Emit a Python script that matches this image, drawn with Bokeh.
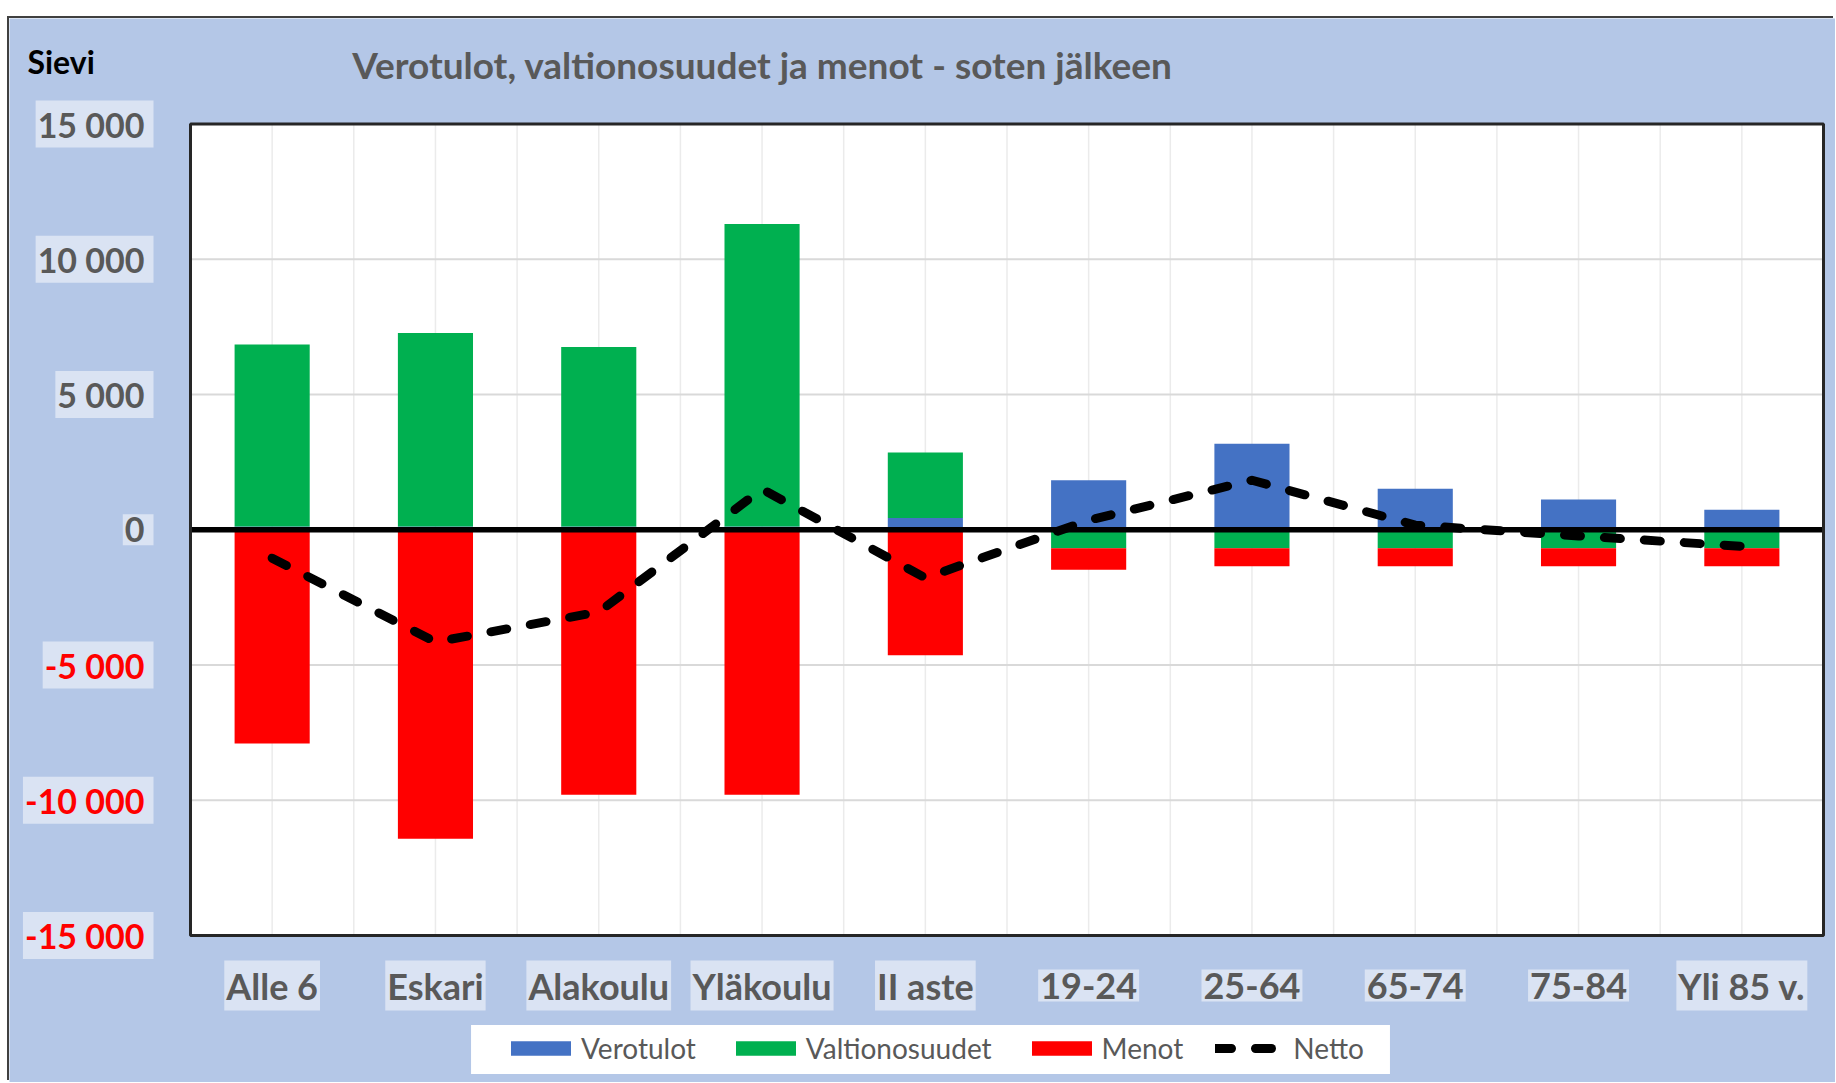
import numpy as np
from bokeh.plotting import figure
from bokeh.layouts import column, row
from bokeh.models import (Range1d, Label, Legend, LegendItem, ColumnDataSource, Spacer)
from bokeh.embed import file_html
from bokeh.resources import INLINE

# ---------------- data ----------------
categories = ["Alle 6", "Eskari", "Alakoulu", "Yläkoulu", "II aste",
              "19-24", "25-64", "65-74", "75-84", "Yli 85 v."]
verotulot = [120, 120, 120, 120, 430, 1830, 3180, 1520, 1120, 740]
valtionosuudet = [6730, 7150, 6640, 11180, 2430, -680, -680, -680, -680, -680]
menot = [-7900, -11420, -9800, -9800, -4640, -800, -670, -670, -670, -670]
netto = [-1050, -4150, -3040, 1500, -1780, 350, 1830, 170, -230, -610]

y_ticks = [15000, 10000, 5000, 0, -5000, -10000, -15000]
y_tick_labels = ["15 000", "10 000", "5 000", "0", "-5 000", "-10 000", "-15 000"]
y_min, y_max = -15000, 15000

series_names = ["Verotulot", "Valtionosuudet", "Menot"]
series_values = [verotulot, valtionosuudet, menot]
series_colors = ["#4472C4", "#00B050", "#FF0000"]

title_text = "Verotulot, valtionosuudet ja menot - soten jälkeen"
corner_text = "Sievi"

# ---------------- layout (page pixels) ----------------
FONT = "Lato"
GRAY = "#595959"
BG = "#B4C7E7"
LBL_BG = "#DAE3F3"

N = len(categories)
FIG_L, FIG_R, FIG_T, FIG_B = 9, 1835, 18, 1082
PA_L, PA_R, PA_T, PA_B = 190, 1823, 123.5, 935   # plot area in page px


def dx(px):
    return (px - PA_L) / (PA_R - PA_L) * N


def dy(py):
    return y_max - (py - PA_T) / (PA_B - PA_T) * (y_max - y_min)


p = figure(width=FIG_R - FIG_L, height=FIG_B - FIG_T,
           x_range=Range1d(dx(FIG_L), dx(FIG_R)), y_range=Range1d(dy(FIG_B), dy(FIG_T)),
           output_backend="svg", toolbar_location=None,
           min_border_left=0, min_border_right=0, min_border_top=0, min_border_bottom=0)
p.styles = {"box-shadow": "-2px -2px 0 0 #404040"}
p.title.visible = False
p.xaxis.visible = False
p.yaxis.visible = False
p.xgrid.visible = False
p.ygrid.visible = False
p.background_fill_color = BG
p.border_fill_color = BG
p.outline_line_color = None

# plot area
p.quad(left=[0], right=[N], bottom=[y_min], top=[y_max], fill_color="white", line_color=None)

# gridlines
vx = [i * 0.5 for i in range(1, 2 * N)]
p.segment(x0=vx, x1=vx, y0=[y_min] * len(vx), y1=[y_max] * len(vx),
          line_color="#EBEBEB", line_width=1.5)
p.segment(x0=[0] * len(y_ticks), x1=[N] * len(y_ticks), y0=y_ticks, y1=y_ticks,
          line_color="#D9D9D9", line_width=2)

x_centers = np.arange(N) + 0.5

# stacked bars, Excel-like: positives up, negatives down
pos_base = np.zeros(N)
neg_base = np.zeros(N)
bar_renderers = []
for name, vals, col in zip(series_names, series_values, series_colors):
    vals = np.array(vals, dtype=float)
    bottom = np.where(vals >= 0, pos_base, neg_base + vals)
    top = np.where(vals >= 0, pos_base + vals, neg_base)
    pos_base = pos_base + np.where(vals >= 0, vals, 0)
    neg_base = neg_base + np.where(vals < 0, vals, 0)
    src = ColumnDataSource(dict(x=x_centers, bottom=bottom, top=top))
    r = p.vbar(x="x", width=0.46, bottom="bottom", top="top", source=src,
               fill_color=col, line_color=None)
    bar_renderers.append(r)

# zero line
p.segment(x0=[0], x1=[N], y0=[0], y1=[0], line_color="black", line_width=5.5)

# netto line
net_src = ColumnDataSource(dict(x=x_centers, y=netto))
r_net = p.line(x="x", y="y", source=net_src, line_color="black", line_width=9,
               line_dash="16 24", line_cap="round", line_join="round")

# plot area border
p.quad(left=[0], right=[N], bottom=[y_min], top=[y_max], fill_color=None,
       line_color="#262626", line_width=3)

# y tick labels
for v, t in zip(y_ticks, y_tick_labels):
    p.add_layout(Label(x=dx(153), y=v, text=t,
                       text_align="right", text_baseline="middle",
                       text_font=FONT, text_font_size="34px", text_font_style="bold",
                       text_color=("#FF0000" if v < 0 else GRAY),
                       background_fill_color=LBL_BG,
                       padding=dict(top=3, right=9, bottom=3, left=2)))

# x category labels
for xc, c in zip(x_centers, categories):
    p.add_layout(Label(x=xc, y=dy(985), text=c,
                       text_align="center", text_baseline="middle",
                       text_font=FONT, text_font_size="36px", text_font_style="bold",
                       text_color=GRAY, background_fill_color=LBL_BG,
                       padding=dict(top=3, right=2, bottom=3, left=2)))

# corner + title
p.add_layout(Label(x=dx(27), y=dy(61), text=corner_text,
                   text_align="left", text_baseline="middle",
                   text_font=FONT, text_font_size="32px", text_font_style="bold",
                   text_color="black"))
p.add_layout(Label(x=dx(762), y=dy(64), text=title_text,
                   text_align="center", text_baseline="middle",
                   text_font=FONT, text_font_size="37px", text_font_style="bold",
                   text_color=GRAY))

# legend white box
p.add_layout(Label(x=dx(930), y=dy(1049), text=" ",
                   text_align="center", text_baseline="middle",
                   text_font=FONT, text_font_size="27px",
                   background_fill_color="white",
                   padding=dict(top=8, right=456, bottom=8, left=456)))

legend = Legend(items=[LegendItem(label=n, renderers=[r])
                       for n, r in zip(series_names, bar_renderers)]
                + [LegendItem(label="Netto", renderers=[r_net])],
                location=(503 - FIG_L, 17), orientation="horizontal",
                background_fill_alpha=0, border_line_alpha=0,
                padding=0, margin=0, spacing=32, label_standoff=3,
                glyph_width=75, glyph_height=18,
                label_text_font=FONT, label_text_font_size="28px",
                label_text_color=GRAY)
p.add_layout(legend, "center")

layout = column(Spacer(height=FIG_T), row(Spacer(width=FIG_L), p, spacing=0), spacing=0)
open("out.html", "w").write(file_html(layout, INLINE))
